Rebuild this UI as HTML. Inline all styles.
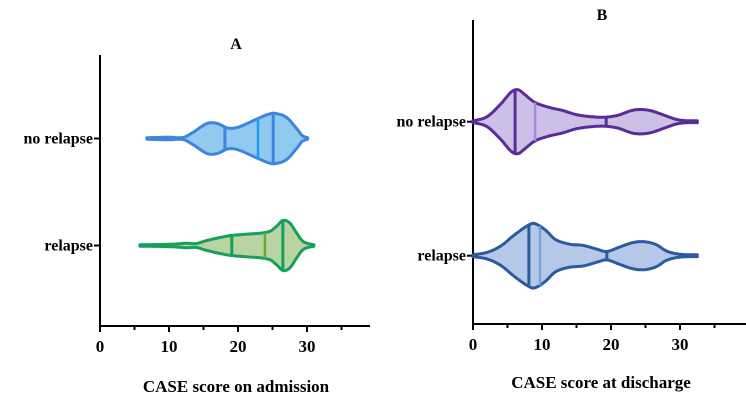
<!DOCTYPE html>
<html><head><meta charset="utf-8"><style>
html,body{margin:0;padding:0;background:#fff;}
svg{display:block;}
text{font-family:"Liberation Serif","Times New Roman",serif;font-weight:bold;}
</style></head><body>
<svg id="chart" width="746" height="400" viewBox="0 0 746 400"></svg>
<script>
const categories = ["no relapse", "relapse"];
const xTicks = [0, 10, 20, 30];
// density profiles: [score, relative density]
const aNoRelapse = [[6.8,0.03],[10,0.05],[12,0.04],[13.5,0.25],[15.5,0.6],[17,0.6],[18.5,0.42],[20,0.45],[22.5,0.75],[24.5,0.98],[25.5,1.0],[27,0.85],[28.5,0.4],[29.3,0.12],[30.1,0.03]];
const aRelapse = [[5.8,0.03],[9,0.04],[11,0.06],[12.5,0.09],[14,0.08],[15.5,0.2],[19,0.4],[24,0.52],[25.5,0.75],[26.5,1.0],[27.5,0.9],[28.5,0.5],[29.5,0.15],[31,0.03]];
const bNoRelapse = [[0,0.03],[2,0.15],[4,0.55],[5.5,0.92],[6.5,1.0],[7.5,0.85],[9,0.6],[11,0.45],[13,0.35],[15,0.22],[17,0.16],[19,0.14],[21,0.2],[23,0.35],[24.5,0.38],[26,0.33],[28,0.18],[29.5,0.07],[31,0.03],[32.5,0.03]];
const bRelapse = [[0,0.03],[2,0.1],[4,0.3],[6,0.65],[8,0.95],[9,1.0],[10.5,0.8],[12,0.5],[14,0.36],[16,0.32],[18,0.2],[19.4,0.13],[21,0.25],[23,0.4],[24.7,0.44],[26.5,0.35],[28,0.15],[29.5,0.06],[31,0.03],[32.5,0.03]];
// quartile lines [q1, median, q3]
const aNoRelapseQ = [18.1, 22.9, 25.1];
const aRelapseQ = [19.1, 23.9, 26.5];
const bNoRelapseQ = [6.1, 9, 19.3];
const bRelapseQ = [8.1, 9.7, 19.4];

const NS = "http://www.w3.org/2000/svg";
const svg = document.getElementById('chart');
function el(tag, attrs, parent){const e=document.createElementNS(NS,tag);for(const k in attrs)e.setAttribute(k,attrs[k]);(parent||svg).appendChild(e);return e;}

// dense catmull-rom sampling of a profile
function densify(prof){
  const out=[];
  for(let i=0;i<prof.length-1;i++){
    const p0=prof[i-1]||prof[i],p1=prof[i],p2=prof[i+1],p3=prof[i+2]||p2;
    for(let s=0;s<12;s++){
      const t=s/12,t2=t*t,t3=t2*t;
      const f=(a,b,c,d)=>0.5*((2*b)+(-a+c)*t+(2*a-5*b+4*c-d)*t2+(-a+3*b-3*c+d)*t3);
      out.push([f(p0[0],p1[0],p2[0],p3[0]),Math.max(0.02,f(p0[1],p1[1],p2[1],p3[1]))]);
    }
  }
  out.push(prof[prof.length-1]);
  return out;
}
function interp(d,x){
  for(let i=0;i<d.length-1;i++){const a=d[i],b=d[i+1];if(x>=a[0]&&x<=b[0]){const t=(x-a[0])/((b[0]-a[0])||1);return a[1]+(b[1]-a[1])*t;}}
  return 0;
}

function panel(cfg){
  const g=el('g',{});
  
  
  const xs=v=>cfg.x0+v*cfg.k;
  const t=el('text',{x:cfg.titleX,y:cfg.titleY,'text-anchor':'middle','font-size':16},g);
  t.textContent=cfg.title;
  
  
  const ya=el('line',{x1:cfg.x0,y1:cfg.yTop,x2:cfg.x0,y2:cfg.axisY+1,stroke:'#000','stroke-width':2},g);
  
  
  const xa=el('line',{x1:cfg.x0-1,y1:cfg.axisY,x2:cfg.xEnd,y2:cfg.axisY,stroke:'#000','stroke-width':2},g);
  
  
  for(let v=0;xs(v)<=cfg.xEnd;v+=5){
    el('line',{x1:xs(v),y1:cfg.axisY,x2:xs(v),y2:cfg.axisY+(v%10===0?6:4),stroke:'#000','stroke-width':2},g);
  }
  xTicks.forEach(v=>{
    const l=el('text',{x:xs(v),y:cfg.axisY+26,'text-anchor':'middle','font-size':17},g);
    l.textContent=v;
    
    
  });
  const xt=el('text',{x:cfg.xTitleX,y:cfg.xTitleY,'text-anchor':'middle','font-size':17},g);
  xt.textContent=cfg.xTitle;
  
  
  cfg.series.forEach((s,i)=>{
    const cy=cfg.cy[i];
    el('line',{x1:cfg.x0-6,y1:cy,x2:cfg.x0,y2:cy,stroke:'#000','stroke-width':2},g);
    const yl=el('text',{x:cfg.x0-7,y:cy+5,'text-anchor':'end','font-size':16},g);
    yl.textContent=categories[i];
    
    
    const dense=densify(s.prof);
    let d="";
    dense.forEach((p,j)=>{d+=(j?" L":"M")+xs(p[0]).toFixed(1)+","+(cy-p[1]*s.amp).toFixed(1);});
    for(let j=dense.length-1;j>=0;j--){const p=dense[j];d+=" L"+xs(p[0]).toFixed(1)+","+(cy+p[1]*s.amp).toFixed(1);}
    d+=" Z";
    const p=el('path',{d:d,fill:s.fill,stroke:s.stroke,'stroke-width':3,'stroke-linejoin':'round'},g);
    
    
    s.q.forEach((q,qi)=>{
      const w=interp(dense,q)*s.amp;
      const ln=el('line',{x1:xs(q),y1:cy-w,x2:xs(q),y2:cy+w,stroke:qi===1?s.med:s.stroke,'stroke-width':qi===1?2.5:3},g);
      
      
    });
  });
}

panel({name:'panel-a',title:'A',titleX:236,titleY:49,x0:100,k:6.9,axisY:326,yTop:55,xEnd:370,
  cy:[138.5,245.5],xTitle:'CASE score on admission',xTitleX:236,xTitleY:392,
  series:[
    {prof:aNoRelapse,q:aNoRelapseQ,amp:25,fill:'#92c9f0',stroke:'#3d85de',med:'#1aa0ea'},
    {prof:aRelapse,q:aRelapseQ,amp:25,fill:'#bad3a3',stroke:'#15a05c',med:'#5fae38'}
  ]});
panel({name:'panel-b',title:'B',titleX:602,titleY:20,x0:473,k:6.9,axisY:324,yTop:20,xEnd:746,
  cy:[121.7,255.7],xTitle:'CASE score at discharge',xTitleX:601,xTitleY:388,
  series:[
    {prof:bNoRelapse,q:bNoRelapseQ,amp:32,fill:'#cdc0e6',stroke:'#5a2c98',med:'#a68ad6'},
    {prof:bRelapse,q:bRelapseQ,amp:32,fill:'#b6c8e8',stroke:'#2c5a9f',med:'#7c9fd8'}
  ]});
</script>
</body></html>
